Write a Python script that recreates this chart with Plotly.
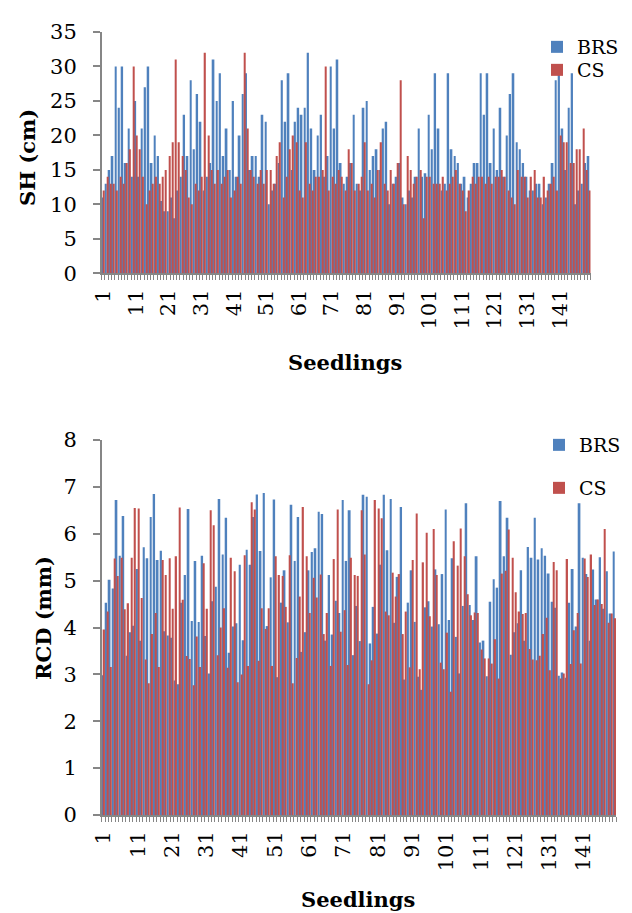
import plotly.graph_objects as go

# ---------------- data ----------------
seedlings = list(range(1, 151))

sh_brs = [11, 13, 15, 17, 30, 24, 30, 16, 21, 14, 25, 14, 21, 27, 30, 16, 20, 17, 10.5, 9,
          9, 11, 8, 12, 14, 23, 17, 28, 18, 26, 22, 12, 14, 16, 31, 25, 29, 17, 21,
          15, 25, 14, 20, 26, 29, 15, 17, 17, 14, 23, 22, 10, 12, 13, 16, 28, 22, 29, 15,
          22, 24, 23, 24, 32, 21, 15, 20, 23, 14, 17, 30, 21, 31, 16, 13, 14,
          16, 23, 13, 12, 24, 25, 15, 17, 18, 15, 21, 22, 10, 13, 14, 16, 11, 10, 12, 11,
          14, 21, 14, 14.5, 23, 18, 29, 21, 12, 13, 29, 18, 17, 16, 13, 14, 11,
          13, 16, 16, 29, 23, 29, 16, 21, 15, 24, 14, 20, 26, 29, 19, 18, 16, 14, 12, 12,
          13, 13, 10, 11, 13, 16, 28, 29, 21, 15, 24, 29, 10, 12, 13, 16, 17]

sh_cs = [12, 14, 13, 13, 12, 14, 13, 16, 18, 30, 20, 18, 14, 10, 12, 13, 14, 13, 14, 15,
         17, 19, 31, 19, 17, 15, 11, 10, 13, 12, 14, 32, 20, 15, 13,
         15, 13, 14, 15, 11, 12, 14, 13, 32, 21, 15, 14, 13, 15, 13, 15, 15, 13, 17, 19,
         11, 14, 18, 20, 19, 12, 11, 19, 13, 12, 14, 14, 15, 30, 12, 14, 13, 15, 14, 12,
         18, 16, 12, 13, 14, 19, 12, 13, 11, 15, 19, 13, 12, 15, 13, 16, 28, 10, 17, 15,
         13, 14, 15, 8, 14, 14, 13, 13, 13, 14, 12, 13, 14, 15, 13, 12, 9,
         12, 14, 13, 14, 14, 13, 14, 13, 14, 14, 15, 14, 12, 11, 10, 15, 14, 14, 11, 14,
         15, 11, 11, 14, 12, 13, 14, 12, 20, 19, 19, 16, 16, 18, 18, 21, 15, 12]

rcd_brs = [2.98, 4.53, 5.02, 4.83, 6.72, 5.53, 6.38, 3.40, 3.90, 4.04, 5.25, 3.72, 5.71, 5.48,
           6.36, 6.85, 5.44, 5.64, 3.92, 3.83, 3.78, 2.87, 2.79, 4.53, 5.12, 6.53, 4.14, 5.42,
           4.12, 5.53, 3.82, 3.02, 4.56, 4.87, 6.74, 5.56,
           6.34, 3.46, 4.02, 4.09, 5.34, 3.73, 5.66, 5.34, 6.36, 6.84, 5.63, 6.87, 4.03, 5.07,
           6.73, 2.94, 4.53, 5.22, 4.11, 6.62, 5.42, 6.36, 3.48, 3.90, 5.22, 5.61, 5.69, 6.47,
           6.42, 3.72, 5.12, 3.85, 4.57, 4.31, 6.72,
           5.42, 6.50, 3.41, 4.46, 3.71, 6.83, 6.79, 3.66, 4.44, 3.87, 5.34, 6.83, 5.65, 6.74,
           4.10, 5.08, 6.57, 2.89, 4.53, 5.22, 4.12, 2.95, 2.67, 4.43, 4.56, 4.02, 5.24, 4.07,
           5.14, 6.52, 4.16, 5.48, 3.80, 3.02, 4.46,
           6.65, 4.48, 4.16, 5.52, 3.68, 3.72, 2.96, 4.55, 5.03, 4.85, 6.70, 5.52, 6.34, 3.42,
           3.90, 4.09, 5.22, 3.72, 5.72, 5.49, 6.34, 5.45, 5.69, 5.53, 5.15, 4.55, 4.42, 2.97,
           3.04, 2.93, 4.53, 5.25, 4.02, 6.65, 5.49, 5.14, 3.72, 5.24,
           4.6, 5.5, 4.4, 5.2, 4.3, 5.62]

rcd_cs = [3.96, 4.34, 3.16, 5.47, 5.10, 5.49, 4.39, 4.52, 5.49, 6.55, 6.54, 4.63, 3.32, 2.81,
          3.86, 4.31, 3.16, 5.44, 5.12, 5.48, 4.40, 5.52, 6.56, 4.59, 3.39, 3.33, 2.77, 3.81,
          3.16, 5.37, 4.40, 6.50, 6.18, 3.41, 4.00,
          4.41, 3.14, 5.49, 5.20, 2.83, 3.00, 5.54, 3.18, 6.67, 6.52, 3.29, 4.41, 3.97, 4.41,
          3.18, 5.52, 5.12, 5.10, 4.44, 5.54, 2.81, 3.35, 4.66, 6.57, 5.52, 4.31, 5.06, 4.64,
          5.13, 3.86, 4.31, 3.18, 5.46, 6.52, 3.91, 4.37,
          3.20, 5.49, 5.12, 5.10, 6.50, 5.56, 2.79, 3.30, 6.72, 6.54, 6.33, 4.34, 4.26, 5.17,
          4.66, 5.14, 3.86, 4.34, 3.15, 5.44, 6.43, 3.11, 5.39, 6.02, 4.24, 6.10, 5.12, 3.25,
          3.11, 3.89, 2.63, 5.84, 5.32, 6.11, 5.52,
          4.71, 4.26, 4.32, 4.31, 3.53, 3.34, 3.34, 3.23, 3.75, 2.91, 5.15, 5.21, 6.09, 5.49,
          4.75, 4.34, 4.29, 4.31, 3.54, 3.32, 3.30, 3.40, 3.86, 4.21, 3.09, 5.40, 5.22, 2.91,
          3.02, 5.46, 3.22, 3.94, 4.31, 3.23, 5.47, 5.08, 5.56, 4.48,
          4.6, 4.5, 6.1, 4.1, 4.3, 4.2]

x_tick_vals = list(range(1, 150, 10))
x_tick_text = [str(v) for v in x_tick_vals]
sh_ticks = [0, 5, 10, 15, 20, 25, 30, 35]
rcd_ticks = [0, 1, 2, 3, 4, 5, 6, 7, 8]

# ---------------- style ----------------
# the page body has an 8px margin, so the figure is laid out in screen coords minus 8
OFF = 8
W, H = 624, 905
BLUE = "#4F81BD"
RED = "#C0504D"
AXIS = "#868686"
FONT = "DejaVu Serif"


def px(x):
    return (x - OFF) / W


def py(y):
    return 1 - (y - OFF) / H


fig = go.Figure()

series = [
    (sh_brs, "BRS", BLUE, 0.56, -0.5, "x", "y", "legend"),
    (sh_cs, "CS", RED, 0.38, 0.06, "x", "y", "legend2"),
    (rcd_brs, "BRS", BLUE, 0.56, -0.5, "x2", "y2", "legend3"),
    (rcd_cs, "CS", RED, 0.38, 0.06, "x2", "y2", "legend4"),
]
for vals, name, col, w, off, xa, ya, lg in series:
    fig.add_trace(go.Bar(x=seedlings, y=vals, name=name, marker=dict(color=col, line=dict(width=0)),
                         width=w, offset=off, xaxis=xa, yaxis=ya, legend=lg))

tickfont = dict(family=FONT, size=21, color="black")


def xaxis(domain, anchor):
    return dict(domain=domain, anchor=anchor, range=[0.5, 150.5], tickmode="array",
                tickvals=x_tick_vals, ticktext=x_tick_text, tickangle=-90, ticks="",
                ticklabelstandoff=6, showline=True, linecolor=AXIS, linewidth=1.5,
                showgrid=False, zeroline=False, tickfont=tickfont, automargin=False,
                minor=dict(tickmode="linear", tick0=0.5, dtick=1, ticks="outside",
                           ticklen=5, tickcolor=AXIS, tickwidth=1, showgrid=False))


def yaxis(domain, anchor, rng, tv):
    return dict(domain=domain, anchor=anchor, range=rng, tickmode="array", tickvals=tv,
                ticks="outside", ticklen=7, tickcolor=AXIS, tickwidth=1.5,
                ticklabelstandoff=12, showline=True, linecolor=AXIS, linewidth=1.5,
                showgrid=False, zeroline=False, tickfont=tickfont, automargin=False)


leg_common = dict(font=dict(family=FONT, size=19, color="black"), bgcolor="rgba(0,0,0,0)",
                  xanchor="left", yanchor="middle", itemwidth=30, borderwidth=0)

fig.update_layout(
    width=W, height=H, margin=dict(l=0, r=0, t=0, b=0, autoexpand=False),
    paper_bgcolor="white", plot_bgcolor="white",
    barmode="overlay", showlegend=True,
    xaxis=xaxis([px(101.7), px(590.7)], "y"),
    yaxis=yaxis([py(273.3), py(32)], "x", [0, 35], sh_ticks),
    xaxis2=xaxis([px(101.7), px(616.2)], "y2"),
    yaxis2=yaxis([py(815), py(440)], "x2", [0, 8], rcd_ticks),
    legend=dict(x=px(537), y=py(47), **leg_common),
    legend2=dict(x=px(537), y=py(70), **leg_common),
    legend3=dict(x=px(539), y=py(445), **leg_common),
    legend4=dict(x=px(539), y=py(488), **leg_common),
)

title_font = dict(family=FONT, size=21, color="black")
annots = [
    dict(text="<b>SH (cm)</b>", x=px(27), y=py(158), textangle=-90),
    dict(text="<b>Seedlings</b>", x=px(345), y=py(362), textangle=0),
    dict(text="<b>RCD (mm)</b>", x=px(43), y=py(618), textangle=-90),
    dict(text="<b>Seedlings</b>", x=px(358), y=py(899), textangle=0),
]
for a in annots:
    fig.add_annotation(xref="paper", yref="paper", showarrow=False, xanchor="center",
                       yanchor="middle", font=title_font, **a)

fig.write_html("out.html")
